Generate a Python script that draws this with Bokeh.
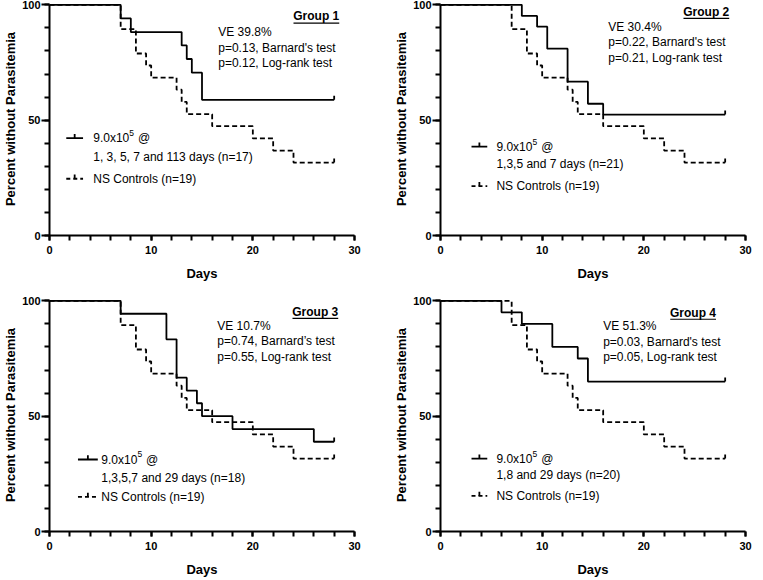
from bokeh.plotting import figure
from bokeh.layouts import gridplot
from bokeh.models import FixedTicker, Range1d
from bokeh.core.properties import value
from bokeh.embed import file_html
from bokeh.resources import INLINE

FONT = "Liberation Sans"

# ---- axis ticks ----
x_ticks = [0, 10, 20, 30]
x_minor = [0, 2, 4, 6, 8, 10, 12, 14, 16, 18, 20, 22, 24, 26, 28, 30]
y_ticks = [0, 50, 100]
y_minor = [0, 10, 20, 30, 40, 50, 60, 70, 80, 90, 100]

# ---- Kaplan-Meier step data (percent without parasitemia) ----
ctrl_days = [0, 7, 8.5, 9.5, 10, 12.5, 13, 13.5, 16, 20, 22, 24, 28]
ctrl_pct = [100, 89.5, 78.9, 73.7, 68.4, 63.2, 57.9, 52.6, 47.4, 42.1, 36.8, 31.6, 31.6]

g1_days = [0, 7, 8, 13, 13.5, 14, 15, 28]
g1_pct = [100, 94.1, 88.2, 82.4, 76.5, 70.6, 58.8, 58.8]

g2_days = [0, 8, 9.5, 10.5, 12.5, 14.5, 16, 28]
g2_pct = [100, 95.2, 90.5, 81.0, 66.7, 57.1, 52.4, 52.4]

g3_days = [0, 7, 11.5, 12.5, 13.5, 14.5, 15, 18, 26, 28]
g3_pct = [100, 94.4, 83.3, 66.7, 61.1, 55.6, 50.0, 44.4, 38.9, 38.9]

g4_days = [0, 6, 8, 11, 13.5, 14.5, 28]
g4_pct = [100, 95.0, 90.0, 80.0, 75.0, 65.0, 65.0]

# ---- texts ----
group_titles = ["Group 1", "Group 2", "Group 3", "Group 4"]
stat_texts = [
    ["VE 39.8%", "p=0.13, Barnard's test", "p=0.12, Log-rank test"],
    ["VE 30.4%", "p=0.22, Barnard's test", "p=0.21, Log-rank test"],
    ["VE 10.7%", "p=0.74, Barnard\u2019s test", "p=0.55, Log-rank test"],
    ["VE 51.3%", "p=0.03, Barnard's test", "p=0.05, Log-rank test"],
]
dose_base = "9.0x10"
dose_exp = "5"
dose_at = "@"
schedule_labels = [
    "1, 3, 5, 7 and 113 days (n=17)",
    "1,3,5 and 7 days (n=21)",
    "1,3,5,7 and 29 days (n=18)",
    "1,8 and 29 days (n=20)",
]
ctrl_label = "NS Controls (n=19)"

vacc_days = [g1_days, g2_days, g3_days, g4_days]
vacc_pct = [g1_pct, g2_pct, g3_pct, g4_pct]

# ---- layout placement (data-space positions of annotations) ----
title_pos = [(28.5, 95.0), (28.4, 97.0), (28.4, 95.3), (27.1, 94.9)]
stat_pos = [(16.6, [88.0, 81.4, 74.6]), (16.5, [90.5, 84.0, 77.0]),
            (16.5, [89.0, 82.5, 75.6]), (16.0, [89.0, 82.2, 75.6])]
legend_pos = [  # (sym x0, sym x1, text x, y line1, y line2, y control)
    (1.65, 3.3, 4.3, 42.2, 34.0, 24.6),
    (3.05, 4.6, 5.5, 38.5, 30.8, 21.4),
    (2.8, 4.75, 5.1, 31.2, 23.2, 15.0),
    (3.05, 4.6, 5.5, 31.6, 24.4, 15.4),
]
# (left, right, top, bottom) borders in px
borders = [(42, 16, 2, 44), (70, 7, 2, 44), (42, 16, 15, 44), (70, 7, 15, 44)]

DASH = "5 3"


def make_panel(i):
    bl, br, bt, bb = borders[i]
    p = figure(frame_width=305, frame_height=233, output_backend="svg",
               toolbar_location=None, x_range=Range1d(0, 30), y_range=Range1d(0, 101),
               min_border_left=bl, min_border_right=br, min_border_top=bt,
               min_border_bottom=bb)
    p.outline_line_color = None
    p.xgrid.visible = False
    p.ygrid.visible = False
    p.background_fill_color = "white"

    for ax in (p.xaxis[0], p.yaxis[0]):
        ax.axis_line_width = 2
        ax.major_tick_line_width = 2
        ax.minor_tick_line_width = 2
        ax.major_tick_in = 0
        ax.minor_tick_in = 0
        ax.major_label_text_font = FONT
        ax.major_label_text_font_style = "bold"
        ax.major_label_text_font_size = "11px"
        ax.major_label_text_color = "black"
        ax.axis_label_text_font = FONT
        ax.axis_label_text_font_style = "bold"
        ax.axis_label_text_font_size = "13px"
        ax.axis_label_text_color = "black"
        ax.axis_line_color = "black"
        ax.major_tick_line_color = "black"
        ax.minor_tick_line_color = "black"

    xa = p.xaxis[0]
    xa.ticker = FixedTicker(ticks=x_ticks, minor_ticks=x_minor)
    xa.major_tick_out = 5
    xa.minor_tick_out = 5
    xa.major_label_standoff = 5
    xa.axis_label = "Days"
    xa.axis_label_standoff = 9

    ya = p.yaxis[0]
    ya.ticker = FixedTicker(ticks=y_ticks, minor_ticks=y_minor)
    ya.bounds = (0, 100)
    ya.major_tick_out = 8
    ya.minor_tick_out = 5
    ya.major_label_standoff = 1
    ya.axis_label = "Percent without Parasitemia"
    ya.axis_label_standoff = 1

    # curves
    p.step(ctrl_days, ctrl_pct, mode="after", line_color="black", line_width=1.8,
           line_dash=DASH)
    p.step(vacc_days[i], vacc_pct[i], mode="after", line_color="black", line_width=1.8)

    # censor ticks at end of follow-up
    ends_x = [vacc_days[i][-1], ctrl_days[-1]]
    ends_y = [vacc_pct[i][-1], ctrl_pct[-1]]
    p.segment(x0=ends_x, y0=ends_y, x1=ends_x, y1=[v + 1.8 for v in ends_y],
              line_color="black", line_width=1.8)

    # group title (bold, underlined)
    tx, ty = title_pos[i]
    p.text(x=[tx], y=[ty], text=[group_titles[i]], text_font=value(FONT),
           text_font_style="bold", text_font_size="12px", text_align="right",
           text_baseline="middle", text_color="black")
    p.segment(x0=[tx - 4.5], y0=[ty - 2.9], x1=[tx], y1=[ty - 2.9],
              line_color="black", line_width=1.2)

    # stats
    sx, sys = stat_pos[i]
    p.text(x=[sx] * 3, y=sys, text=stat_texts[i], text_font=value(FONT),
           text_font_size="12px", text_align="left", text_baseline="middle",
           text_color="black")

    # legend
    lx0, lx1, ltx, ly1, ly2, lyc = legend_pos[i]
    mid = (lx0 + lx1) / 2
    p.segment(x0=[lx0], y0=[ly1], x1=[lx1], y1=[ly1], line_color="black", line_width=1.8)
    p.segment(x0=[mid], y0=[ly1], x1=[mid], y1=[ly1 + 1.8], line_color="black",
              line_width=1.8)
    p.segment(x0=[lx0], y0=[lyc], x1=[lx1], y1=[lyc], line_color="black", line_width=1.8,
              line_dash="4 3")
    p.segment(x0=[mid], y0=[lyc], x1=[mid], y1=[lyc + 1.8], line_color="black",
              line_width=1.8)
    p.text(x=[ltx, ltx, ltx], y=[ly1, ly2, lyc],
           text=[dose_base, schedule_labels[i], ctrl_label],
           text_font=value(FONT), text_font_size="12px", text_align="left",
           text_baseline="middle", text_color="black")
    # superscript exponent and "@"
    p.text(x=[ltx + 3.55], y=[ly1 + 2.2], text=[dose_exp], text_font=value(FONT),
           text_font_size="8.5px", text_align="left", text_baseline="middle",
           text_color="black")
    p.text(x=[ltx + 4.4], y=[ly1], text=[dose_at], text_font=value(FONT),
           text_font_size="12px", text_align="left", text_baseline="middle",
           text_color="black")
    return p


panels = [make_panel(i) for i in range(4)]
grid = gridplot([[panels[0], panels[1]], [panels[2], panels[3]]], toolbar_location=None)

open("out.html", "w").write(file_html(grid, INLINE))
